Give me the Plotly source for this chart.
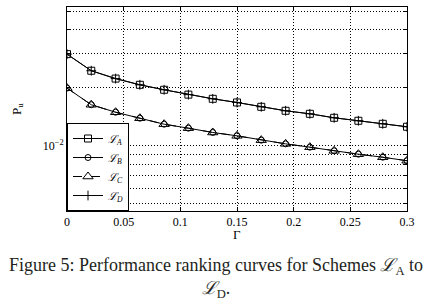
import plotly.graph_objects as go

# ---- data ----
gamma = [0, 0.0214, 0.0429, 0.0643, 0.0857, 0.1071, 0.1286, 0.15,
         0.1714, 0.1929, 0.2143, 0.2357, 0.2571, 0.2786, 0.3]
p_A = [0.0299, 0.0245, 0.0223, 0.0207, 0.0195, 0.0184, 0.0175, 0.01675,
       0.0159, 0.01516, 0.01462, 0.01394, 0.01345, 0.01297, 0.01252]
p_B = [0.0199, 0.0163, 0.0149, 0.01387, 0.01291, 0.01231, 0.01169, 0.01123,
       0.01066, 0.0102, 0.0098, 0.00938, 0.00901, 0.00869, 0.00833]
p_C = [0.0199, 0.0163, 0.0149, 0.01387, 0.01291, 0.01231, 0.01169, 0.01123,
       0.01066, 0.0102, 0.0098, 0.00938, 0.00901, 0.00869, 0.00833]
p_D = [0.0299, 0.0245, 0.0223, 0.0207, 0.0195, 0.0184, 0.0175, 0.01675,
       0.0159, 0.01516, 0.01462, 0.01394, 0.01345, 0.01297, 0.01252]

series_names = ["<i>ℒ<sub>A</sub></i>", "<i>ℒ<sub>B</sub></i>",
                "<i>ℒ<sub>C</sub></i>", "<i>ℒ<sub>D</sub></i>"]

x_tick_vals = [0, 0.05, 0.1, 0.15, 0.2, 0.25, 0.3]
x_tick_text = ["0", "0.05", "0.1", "0.15", "0.2", "0.25", "0.3"]
y_grid_vals = [0.005, 0.006, 0.007, 0.008, 0.009, 0.01,
               0.02, 0.03, 0.04, 0.05]
y_grid_text = ["", "", "", "", "", "10<sup>−2</sup>", "", "", "", ""]

x_label = "Γ"
caption = "Figure 5: Performance ranking curves for Schemes <i>ℒ</i><sub>A</sub> to<br><i>ℒ</i><sub>D</sub>."

FONT = "Liberation Serif"
BLACK = "#000000"

fig = go.Figure()
styles = [
    dict(dash="solid", symbol="square-open", size=7),
    dict(dash="solid", symbol="circle-open", size=6),
    dict(dash="dash", symbol="triangle-up-open", size=9),
    dict(dash="solid", symbol="cross-thin-open", size=7),
]
for name, ys, st in zip(series_names, [p_A, p_B, p_C, p_D], styles):
    fig.add_trace(go.Scatter(
        x=gamma, y=ys, name=name, mode="lines+markers",
        line=dict(color=BLACK, width=1, dash=st["dash"]),
        marker=dict(symbol=st["symbol"], size=st["size"], color=BLACK,
                    line=dict(color=BLACK, width=1)),
    ))

fig.update_layout(
    width=433, height=308,
    margin=dict(l=67, r=26, t=7, b=97, autoexpand=False),
    paper_bgcolor="white", plot_bgcolor="white",
    font=dict(family=FONT, size=12, color=BLACK),
    showlegend=True,
    legend=dict(x=0, y=0, xanchor="left", yanchor="bottom",
                bgcolor="white", bordercolor=BLACK, borderwidth=1,
                font=dict(family=FONT, size=11), tracegroupgap=0,
                itemwidth=30),
    xaxis=dict(range=[0, 0.3], tickvals=x_tick_vals, ticktext=x_tick_text,
               showgrid=True, gridcolor=BLACK, gridwidth=1, griddash="1px,2px",
               ticks="inside", ticklen=4, tickcolor=BLACK,
               showline=True, linecolor=BLACK, linewidth=1, mirror="ticks",
               zeroline=False, automargin=False),
    yaxis=dict(type="log", range=[-2.341, -1.279],
               tickvals=y_grid_vals, ticktext=y_grid_text,
               showgrid=True, gridcolor=BLACK, gridwidth=1, griddash="1px,2px",
               ticks="inside", ticklen=3, tickcolor=BLACK,
               showline=True, linecolor=BLACK, linewidth=1, mirror="ticks",
               zeroline=False, automargin=False,
               title=dict(text="P<sub>u</sub>", standoff=18, font=dict(size=13))),
)

fig.add_annotation(text=x_label, xref="paper", yref="paper",
                   x=0.5, y=-0.113, xanchor="center", yanchor="middle",
                   showarrow=False, font=dict(family=FONT, size=13, color=BLACK))

fig.add_annotation(text=caption, xref="paper", yref="paper",
                   x=0.4397, y=-0.326, xanchor="center", yanchor="middle",
                   showarrow=False, align="center",
                   font=dict(family=FONT, size=18, color="#231f20"))

fig.write_html("out.html", config={"displayModeBar": False},
               post_script="document.body.style.margin='0';document.body.style.overflow='hidden';")
